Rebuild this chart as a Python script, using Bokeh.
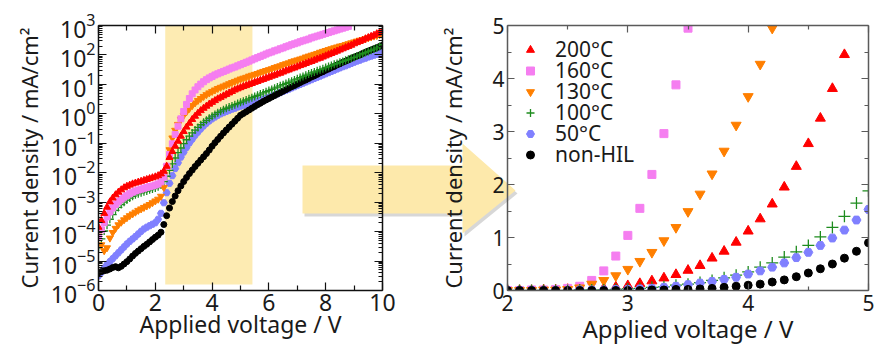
import numpy as np
from bokeh.plotting import figure
from bokeh.models import (LogAxis, LinearAxis, BoxAnnotation, FixedTicker, Range1d,
                          Legend, LegendItem)
from bokeh.layouts import row, column
from bokeh.embed import file_html
from bokeh.resources import INLINE

# ---------------- data: left panel (log10 of current density, mA/cm2) ----------------
V_LEFT = np.round(np.arange(0, 10.001, 0.1), 1)   # applied voltage grid, 0.1 V steps

LOG_200C = [-3.85, -3.62, -3.38, -3.17, -2.99, -2.86, -2.75, -2.66, -2.58, -2.51,
            -2.46, -2.42, -2.38, -2.35, -2.32, -2.29, -2.26, -2.23, -2.20, -2.17,
            -2.14, -2.10, -2.04, -1.95, -1.78, -1.48, -1.28, -1.10, -0.93, -0.76,
            -0.60, -0.45, -0.32, -0.19, -0.08, 0.02, 0.11, 0.19, 0.26, 0.33,
            0.39, 0.45, 0.51, 0.56, 0.61, 0.66, 0.71, 0.76, 0.81, 0.85,
            0.89, 0.93, 0.96, 1.00, 1.03, 1.07, 1.10, 1.14, 1.17, 1.21,
            1.24, 1.28, 1.31, 1.35, 1.38, 1.42, 1.46, 1.49, 1.53, 1.56,
            1.60, 1.64, 1.67, 1.71, 1.75, 1.78, 1.82, 1.86, 1.89, 1.93,
            1.97, 2.01, 2.05, 2.09, 2.13, 2.17, 2.21, 2.25, 2.29, 2.33,
            2.38, 2.42, 2.46, 2.50, 2.55, 2.59, 2.63, 2.67, 2.72, 2.76,
            2.80]
LOG_160C = [-4.20, -3.94, -3.70, -3.50, -3.33, -3.20, -3.08, -2.98, -2.90, -2.83,
            -2.77, -2.71, -2.66, -2.62, -2.59, -2.56, -2.53, -2.50, -2.47, -2.45,
            -2.42, -2.38, -2.31, -2.15, -1.78, -1.38, -1.02, -0.70, -0.42, -0.17,
            0.08, 0.32, 0.52, 0.68, 0.81, 0.92, 1.01, 1.09, 1.16, 1.22,
            1.27, 1.32, 1.36, 1.40, 1.44, 1.48, 1.52, 1.56, 1.59, 1.63,
            1.67, 1.71, 1.75, 1.79, 1.83, 1.87, 1.91, 1.95, 1.99, 2.03,
            2.07, 2.10, 2.14, 2.17, 2.21, 2.24, 2.28, 2.31, 2.35, 2.38,
            2.41, 2.45, 2.48, 2.51, 2.54, 2.58, 2.61, 2.64, 2.67, 2.70,
            2.73, 2.76, 2.79, 2.82, 2.85, 2.88, 2.91, 2.94, 2.97]
LOG_130C = [-4.15, -4.45, -4.65, -4.55, -4.22, -4.03, -3.89, -3.77, -3.68, -3.60,
            -3.53, -3.46, -3.40, -3.34, -3.28, -3.23, -3.18, -3.13, -3.08, -3.02,
            -2.96, -2.90, -2.80, -2.50, -1.80, -1.22, -0.82, -0.56, -0.36, -0.19,
            -0.05, 0.07, 0.18, 0.28, 0.37, 0.45, 0.52, 0.59, 0.65, 0.71,
            0.76, 0.81, 0.86, 0.90, 0.94, 0.98, 1.02, 1.06, 1.10, 1.14,
            1.18, 1.21, 1.24, 1.28, 1.31, 1.34, 1.37, 1.41, 1.44, 1.47,
            1.50, 1.53, 1.57, 1.60, 1.63, 1.67, 1.70, 1.73, 1.77, 1.80,
            1.83, 1.86, 1.89, 1.93, 1.96, 1.99, 2.02, 2.05, 2.09, 2.12,
            2.15, 2.18, 2.21, 2.24, 2.27, 2.30, 2.32, 2.35, 2.38, 2.41,
            2.44, 2.47, 2.50, 2.52, 2.55, 2.58, 2.61, 2.64, 2.66, 2.69,
            2.72]
LOG_100C = [-4.55, -4.25, -3.98, -3.78, -3.58, -3.42, -3.28, -3.18, -3.08, -3.00,
            -2.93, -2.86, -2.80, -2.75, -2.71, -2.68, -2.65, -2.62, -2.58, -2.55,
            -2.52, -2.48, -2.42, -2.30, -2.12, -1.92, -1.70, -1.50, -1.32, -1.16,
            -1.01, -0.88, -0.76, -0.65, -0.55, -0.46, -0.37, -0.29, -0.22, -0.15,
            -0.08, -0.02, 0.04, 0.09, 0.14, 0.19, 0.23, 0.27, 0.31, 0.35,
            0.39, 0.43, 0.47, 0.51, 0.55, 0.59, 0.63, 0.67, 0.71, 0.75,
            0.79, 0.83, 0.87, 0.91, 0.95, 0.99, 1.03, 1.07, 1.11, 1.15,
            1.19, 1.23, 1.27, 1.31, 1.35, 1.39, 1.42, 1.46, 1.50, 1.53,
            1.57, 1.61, 1.64, 1.68, 1.71, 1.75, 1.78, 1.82, 1.85, 1.89,
            1.92, 1.96, 2.00, 2.04, 2.08, 2.12, 2.16, 2.20, 2.24, 2.29,
            2.35]
LOG_50C = [-5.50, -5.38, -5.24, -5.12, -5.02, -4.92, -4.82, -4.72, -4.62, -4.52,
           -4.42, -4.33, -4.25, -4.17, -4.08, -3.99, -3.91, -3.85, -3.80, -3.75,
           -3.70, -3.58, -3.38, -3.02, -2.68, -2.36, -2.10, -1.86, -1.66, -1.47,
           -1.30, -1.14, -0.99, -0.86, -0.73, -0.62, -0.51, -0.41, -0.32, -0.24,
           -0.17, -0.11, -0.05, 0.00, 0.04, 0.08, 0.12, 0.16, 0.19, 0.23,
           0.26, 0.29, 0.32, 0.35, 0.38, 0.41, 0.44, 0.47, 0.50, 0.53,
           0.56, 0.60, 0.64, 0.68, 0.72, 0.76, 0.80, 0.84, 0.88, 0.92,
           0.96, 1.00, 1.04, 1.08, 1.12, 1.16, 1.20, 1.24, 1.28, 1.32,
           1.36, 1.40, 1.44, 1.48, 1.52, 1.56, 1.60, 1.63, 1.67, 1.71,
           1.75, 1.79, 1.82, 1.86, 1.89, 1.93, 1.96, 1.99, 2.02, 2.05,
           2.08]
LOG_NONHIL = [-5.40, -5.36, -5.33, -5.31, -5.27, -5.22, -5.19, -5.23, -5.18, -5.10,
              -5.02, -4.93, -4.83, -4.74, -4.66, -4.58, -4.50, -4.43, -4.35, -4.27,
              -4.19, -4.12, -4.02, -3.76, -3.46, -3.20, -2.98, -2.79, -2.61, -2.45,
              -2.30, -2.16, -2.03, -1.91, -1.79, -1.68, -1.57, -1.46, -1.35, -1.23,
              -1.10, -0.98, -0.87, -0.76, -0.65, -0.55, -0.45, -0.35, -0.25, -0.15,
              -0.05, 0.01, 0.07, 0.13, 0.19, 0.25, 0.31, 0.36, 0.42, 0.47,
              0.52, 0.57, 0.62, 0.67, 0.72, 0.77, 0.82, 0.87, 0.92, 0.96,
              1.01, 1.06, 1.11, 1.15, 1.20, 1.25, 1.29, 1.34, 1.39, 1.43,
              1.48, 1.52, 1.57, 1.61, 1.66, 1.70, 1.75, 1.79, 1.83, 1.88,
              1.92, 1.96, 2.00, 2.05, 2.09, 2.13, 2.17, 2.21, 2.25, 2.29,
              2.33]

# ---------------- data: right panel (linear, mA/cm2) ----------------
V_RIGHT = np.round(np.arange(2.0, 5.001, 0.1), 1)
J_200C = [0.00, 0.00, 0.00, 0.01, 0.01, 0.02, 0.02, 0.03, 0.04, 0.065,
          0.09, 0.13, 0.18, 0.235, 0.30, 0.38, 0.47, 0.61, 0.74, 0.91,
          1.12, 1.35, 1.63, 1.95, 2.34, 2.77, 3.25, 3.81, 4.45]
J_160C = [0.00, 0.00, 0.01, 0.01, 0.02, 0.04, 0.08, 0.19, 0.37, 0.65,
          1.04, 1.55, 2.19, 2.96, 3.88, 4.95]
J_130C = [0.00, 0.00, 0.00, 0.01, 0.01, 0.02, 0.05, 0.12, 0.19, 0.28,
          0.40, 0.55, 0.72, 0.94, 1.19, 1.49, 1.82, 2.20, 2.63, 3.12,
          3.66, 4.27, 4.95]
J_100C = [0.00, 0.00, 0.00, 0.00, 0.00, 0.00, 0.01, 0.01, 0.01, 0.02,
          0.03, 0.04, 0.06, 0.07, 0.10, 0.12, 0.15, 0.19, 0.24, 0.29,
          0.35, 0.44, 0.52, 0.63, 0.73, 0.85, 1.01, 1.19, 1.40, 1.65,
          1.88]
J_50C = [0.00, 0.00, 0.00, 0.00, 0.00, 0.00, 0.01, 0.01, 0.01, 0.02,
         0.02, 0.03, 0.04, 0.06, 0.08, 0.11, 0.14, 0.17, 0.21, 0.25,
         0.31, 0.37, 0.44, 0.52, 0.62, 0.72, 0.85, 0.99, 1.14, 1.33,
         1.53]
J_NONHIL = [0.00, 0.00, 0.00, 0.00, 0.00, 0.00, 0.00, 0.00, 0.00, 0.00,
            0.00, 0.00, 0.01, 0.01, 0.02, 0.02, 0.03, 0.04, 0.06, 0.08,
            0.10, 0.12, 0.16, 0.20, 0.26, 0.33, 0.41, 0.50, 0.61, 0.74,
            0.90]

LABELS = ["200°C", "160°C", "130°C", "100°C", "50°C", "non-HIL"]
X_TITLE = "Applied voltage / V"
Y_TITLE = "Current density / mA/cm²"
X_TICKS_LEFT = [0, 2, 4, 6, 8, 10]
X_TICKS_RIGHT = [2, 3, 4, 5]
Y_TICKS_RIGHT = [0, 1, 2, 3, 4, 5]
DECADES = list(range(-6, 4))

# ---------------- style ----------------
FONT = "Noto Sans"
TXT = "#1a1a1a"
RED, PINK, ORANGE, GREEN, BLUE, BLACK = "#ff0000", "#f57ef0", "#ff7f00", "#1e8c1e", "#8080ff", "#000000"
YELLOW = "#fdebb2"
ARROW = "#fde9ab"
W, H = 874, 347


def style_axis(ax, color, major_in, minor_in, tick_size=None, label_size=None):
    ax.axis_line_color = color
    ax.axis_line_width = 1.5
    ax.major_tick_line_color = color
    ax.minor_tick_line_color = color
    ax.major_tick_line_width = 1.2
    ax.minor_tick_line_width = 1.2
    ax.major_tick_in = major_in
    ax.major_tick_out = 0
    ax.minor_tick_in = minor_in
    ax.minor_tick_out = 0
    ax.major_label_text_font = FONT
    ax.axis_label_text_font = FONT
    ax.axis_label_text_font_style = "normal"
    ax.axis_label_text_color = TXT
    if tick_size is None:          # mirrored frame side: ticks only
        ax.major_label_text_font_size = "1px"
        ax.major_label_text_color = None
        ax.major_label_standoff = 0
    else:
        ax.major_label_text_font_size = tick_size
        ax.major_label_text_color = TXT
    if label_size is not None:
        ax.axis_label_text_font_size = label_size


# ---------------- background figure holding the block arrow ----------------
pA = figure(width=W, height=H, x_range=Range1d(0, W), y_range=Range1d(H, 0),
            output_backend="svg", toolbar_location=None, min_border=0,
            x_axis_location=None, y_axis_location=None)
pA.grid.visible = False
pA.outline_line_color = None
ARROW_X = [302, 462, 462, 515, 462, 462, 302]
ARROW_Y = [165, 165, 143, 190, 233, 213, 213]
pA.patch([x + 2 for x in ARROW_X], [y + 3 for y in ARROW_Y], fill_color="#8c8c8c",
         fill_alpha=0.35, line_color=None)
pA.patch(ARROW_X, ARROW_Y, fill_color=ARROW, fill_alpha=1.0, line_color=None)

# ---------------- left panel ----------------
pL = figure(width=435, height=H, x_range=Range1d(0, 10), y_range=Range1d(1e-6, 1e3),
            y_axis_type="log", output_backend="svg", toolbar_location=None,
            min_border_left=98, min_border_right=53, min_border_top=25, min_border_bottom=52)
pL.grid.visible = False
pL.outline_line_color = None
pL.background_fill_color = None
pL.border_fill_color = None

x_minor_L = [t + 1 for t in X_TICKS_LEFT[:-1]]
y_major_L = [10.0 ** d for d in DECADES]
y_minor_L = [m * 10.0 ** d for d in DECADES[:-1] for m in range(2, 10)]

pL.xaxis.ticker = FixedTicker(ticks=X_TICKS_LEFT, minor_ticks=x_minor_L)
pL.yaxis.ticker = FixedTicker(ticks=y_major_L, minor_ticks=y_minor_L)
style_axis(pL.xaxis[0], "#111111", 8, 5, "23px", "23px")
style_axis(pL.yaxis[0], "#111111", 8, 4, "23px", "22px")
pL.xaxis.axis_label = X_TITLE
pL.yaxis.axis_label = Y_TITLE
pL.xaxis.major_label_standoff = 3
pL.xaxis.axis_label_standoff = -6
pL.yaxis.major_label_standoff = 3
pL.yaxis.axis_label_standoff = 4

topL = LinearAxis(ticker=FixedTicker(ticks=X_TICKS_LEFT, minor_ticks=x_minor_L))
style_axis(topL, "#111111", 8, 5)
pL.add_layout(topL, "above")
rightL = LogAxis(ticker=FixedTicker(ticks=y_major_L, minor_ticks=y_minor_L))
style_axis(rightL, "#111111", 8, 4)
pL.add_layout(rightL, "right")

pL.add_layout(BoxAnnotation(left=2.35, right=5.42, bottom=10 ** -5.8, top=10 ** 3.08,
                            fill_color=YELLOW, fill_alpha=1.0, line_color=None, level="underlay"))

left_series = [
    (LOG_50C, "hex", BLUE, 7),
    (LOG_NONHIL, "circle", BLACK, 6),
    (LOG_100C, "cross", GREEN, 8),
    (LOG_130C, "inverted_triangle", ORANGE, 7),
    (LOG_160C, "square", PINK, 6),
    (LOG_200C, "triangle", RED, 7),
]
for vals, mk, col, sz in left_series:
    y = 10.0 ** np.array(vals)
    x = V_LEFT[:len(vals)]
    if mk == "cross":
        pL.scatter(x, y, marker=mk, size=sz, line_color=col, line_width=1.3)
    else:
        pL.scatter(x, y, marker=mk, size=sz, fill_color=col, line_color=col)

# ---------------- right panel ----------------
pR = figure(width=439, height=H, x_range=Range1d(2, 5), y_range=Range1d(0, 5),
            output_backend="svg", toolbar_location=None,
            min_border_left=69, min_border_right=6, min_border_top=22, min_border_bottom=57)
pR.grid.visible = False
pR.outline_line_color = None
pR.background_fill_color = None
pR.border_fill_color = None

x_minor_R = [2.5, 3.5, 4.5]
y_minor_R = [0.5, 1.5, 2.5, 3.5, 4.5]
pR.xaxis.ticker = FixedTicker(ticks=X_TICKS_RIGHT, minor_ticks=x_minor_R)
pR.yaxis.ticker = FixedTicker(ticks=Y_TICKS_RIGHT, minor_ticks=y_minor_R)
style_axis(pR.xaxis[0], "#5a5a5a", 7, 4, "21px", "24px")
style_axis(pR.yaxis[0], "#5a5a5a", 7, 4, "21px", "22px")
pR.xaxis.axis_label = X_TITLE
pR.yaxis.axis_label = Y_TITLE
pR.xaxis.major_label_standoff = 4
pR.xaxis.axis_label_standoff = -2
pR.yaxis.major_label_standoff = 3
pR.yaxis.axis_label_standoff = 21

topR = LinearAxis(ticker=FixedTicker(ticks=X_TICKS_RIGHT, minor_ticks=x_minor_R))
style_axis(topR, "#5a5a5a", 7, 4)
pR.add_layout(topR, "above")
rightR = LinearAxis(ticker=FixedTicker(ticks=Y_TICKS_RIGHT, minor_ticks=y_minor_R))
style_axis(rightR, "#5a5a5a", 7, 4)
pR.add_layout(rightR, "right")

right_series = [
    (J_200C, "triangle", RED, 10),
    (J_160C, "square", PINK, 8),
    (J_130C, "inverted_triangle", ORANGE, 10),
    (J_100C, "cross", GREEN, 12),
    (J_50C, "hex", BLUE, 9),
    (J_NONHIL, "circle", BLACK, 8),
]
right_renderers = []
for vals, mk, col, sz in right_series:
    x = V_RIGHT[:len(vals)]
    if mk == "cross":
        r = pR.scatter(x, vals, marker=mk, size=sz, line_color=col, line_width=1.3)
    else:
        r = pR.scatter(x, vals, marker=mk, size=sz, fill_color=col, line_color=col)
    right_renderers.append(r)

# one single-entry legend per row, so that the rows can sit closer than the font's line box
ROW_PITCH = 21
for i, (lab, r) in enumerate(zip(LABELS, right_renderers)):
    leg = Legend(items=[LegendItem(label=lab, renderers=[r])],
                 location=(13, 227 - ROW_PITCH * i),
                 border_line_color=None, background_fill_alpha=0,
                 label_text_font=FONT, label_text_font_size="21px", label_text_color=TXT,
                 label_height=23, glyph_height=23, glyph_width=20,
                 padding=0, margin=0, spacing=0, label_standoff=15)
    pR.add_layout(leg)

panels = row(pL, pR, margin=(-H, 0, 0, 0))
layout = column(pA, panels)
open("out.html", "w").write(file_html(layout, INLINE))
